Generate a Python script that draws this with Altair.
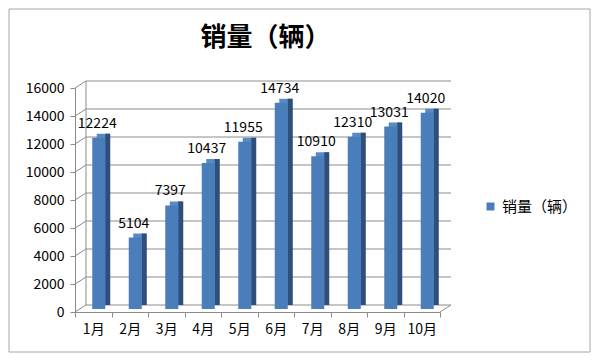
import altair as alt
import pandas as pd

months = ["1月", "2月", "3月", "4月", "5月", "6月", "7月", "8月", "9月", "10月"]
sales = [12224, 5104, 7397, 10437, 11955, 14734, 10910, 12310, 13031, 14020]
series_name = "销量（辆）"
y_ticks = [0, 2000, 4000, 6000, 8000, 10000, 12000, 14000, 16000]

df = pd.DataFrame({"month": months, "sales": sales, "series": series_name})
grid_df = pd.DataFrame({"v": y_ticks})
wall_df = pd.DataFrame({"v": [y_ticks[0]], "v2": [y_ticks[-1]], "t": [series_name]})

W, H = 365, 224
DX, DY = 11, -7
FONT = "Noto Sans CJK SC"
FRONT = "#4A7EBB"
SIDE = "#2F4F7A"
TOP = "#5A8AC6"
GRID = "#8C8C8C"

xs = alt.X("month:N", sort=months, title=None,
           scale=alt.Scale(paddingInner=0.0, paddingOuter=0.0),
           axis=alt.Axis(labelAngle=0, tickBand="extent", tickSize=5, labelPadding=5,
                         domainColor=GRID, tickColor=GRID, labelFontSize=14,
                         labelFont=FONT, labelColor="#000000", grid=False))
yaxis = alt.Axis(values=y_ticks, tickSize=5, labelPadding=6, domainColor=GRID,
                 tickColor=GRID, labelFontSize=14, labelFont=FONT,
                 labelColor="#000000", grid=False, format="d", title=None)
yscale = alt.Scale(domain=[0, 16000], nice=False)
ys = alt.Y("sales:Q", title=None, scale=yscale, axis=yaxis)
yg = alt.Y("v:Q", title=None, scale=yscale, axis=yaxis)

grid = alt.Chart(grid_df).mark_rule(color=GRID, strokeWidth=1, yOffset=DY).encode(
    y=yg, x=alt.value(DX), x2=alt.value(W + DX))
diag = alt.Chart(grid_df).mark_rule(color=GRID, strokeWidth=1, y2Offset=DY).encode(
    y=yg, y2="v:Q", x=alt.value(0), x2=alt.value(DX))
backv = alt.Chart(wall_df).mark_rule(color=GRID, strokeWidth=1, yOffset=DY, y2Offset=DY).encode(
    y=yg, y2="v2:Q", x=alt.value(DX))
floor_r = alt.Chart(wall_df).mark_rule(color=GRID, strokeWidth=1, y2Offset=DY).encode(
    y=yg, y2="v:Q", x=alt.value(W), x2=alt.value(W + DX))

top = alt.Chart(df).mark_bar(size=13, xOffset=10, yOffset=-7, color=TOP).encode(x=xs, y=ys)
side = alt.Chart(df).mark_bar(size=5, xOffset=14.5, yOffset=-7, y2Offset=-3, color=SIDE).encode(x=xs, y=ys)
front = alt.Chart(df).mark_bar(size=13, xOffset=5.5, yOffset=-3).encode(
    x=xs, y=ys,
    color=alt.Color("series:N", scale=alt.Scale(range=[FRONT]),
                    legend=alt.Legend(title=None, orient="none", legendX=408, legendY=111,
                                      symbolType="square", symbolSize=64,
                                      symbolStrokeWidth=0, labelFont=FONT,
                                      labelFontSize=15, labelColor="#000000",
                                      padding=0, labelOffset=4)))
labels = alt.Chart(df).mark_text(dx=4, dy=-13, baseline="alphabetic", fontSize=14, font=FONT,
                                 color="#000000").encode(x=xs, y=ys, text="sales:Q")

border = alt.Chart(wall_df).mark_rect(fill=None, stroke="#A6A6A6", strokeWidth=1).encode(
    x=alt.value(-66), x2=alt.value(W + 150), y=alt.value(-79), y2=alt.value(H + 40))
title = alt.Chart(wall_df).mark_text(fontSize=26, font=FONT, fontWeight="bold",
                                     baseline="alphabetic", align="center",
                                     color="#000000").encode(
    x=alt.value(W / 2 + 8), y=alt.value(-42), text="t:N")

chart = alt.layer(border, grid, diag, backv, floor_r, top, side, front, labels, title).properties(
    width=W, height=H,
    autosize=alt.AutoSizeParams(type="none"),
    padding={"left": 67, "top": 80, "right": 152, "bottom": 41},
    background="#FFFFFF",
).configure_view(stroke=None)

chart.save("out.html", embed_options={"renderer": "svg", "actions": False})
